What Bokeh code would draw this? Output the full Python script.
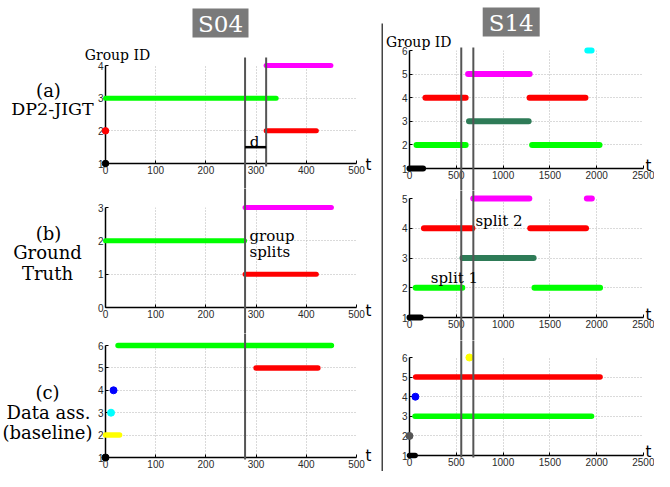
from bokeh.plotting import figure
from bokeh.models import Range1d, FixedTicker, ColumnDataSource
from bokeh.core.properties import value
from bokeh.layouts import row, column
from bokeh.embed import file_html
from bokeh.resources import INLINE

# ---------------- data ----------------
S04_XTICKS = [0, 100, 200, 300, 400, 500]
S14_XTICKS = [0, 500, 1000, 1500, 2000, 2500]

# S04 (a) DP2-JIGT
S04A_GROUP = [1, 2, 3, 4, 2]
S04A_START = [0, 0, 0, 320, 320]
S04A_END = [0, 0, 340, 449, 420]
S04A_COLOR = ["black", "red", "lime", "magenta", "red"]
# S04 (b) ground truth
S04B_GROUP = [2, 3, 1]
S04B_START = [0, 278, 278]
S04B_END = [277, 450, 420]
S04B_COLOR = ["lime", "magenta", "red"]
# S04 (c) data association baseline
S04C_GROUP = [1, 2, 3, 4, 5, 6]
S04C_START = [0, 0, 11, 16, 300, 25]
S04C_END = [0, 28, 11, 16, 423, 450]
S04C_COLOR = ["black", "yellow", "cyan", "blue", "red", "lime"]

# S14 (a)
S14A_GROUP = [1, 2, 2, 3, 4, 4, 5, 6]
S14A_START = [0, 75, 1310, 636, 170, 1283, 626, 1900]
S14A_END = [145, 600, 2030, 1273, 600, 1880, 1284, 1945]
S14A_COLOR = ["black", "lime", "lime", "#2e7b57", "red", "red", "magenta", "cyan"]
# S14 (b)
S14B_GROUP = [1, 2, 2, 3, 4, 4, 5, 5]
S14B_START = [0, 66, 1335, 566, 154, 1290, 681, 1895]
S14B_END = [120, 564, 2036, 1326, 672, 1886, 1280, 1948]
S14B_COLOR = ["black", "lime", "lime", "#2e7b57", "red", "red", "magenta", "magenta"]
# S14 (c)
S14C_GROUP = [1, 2, 3, 4, 5, 6]
S14C_START = [0, 0, 59, 63, 66, 640]
S14C_END = [60, 0, 1945, 63, 2036, 640]
S14C_COLOR = ["black", "#555555", "lime", "blue", "red", "yellow"]

S04_SPLIT_T = [278, 320]
S14_SPLIT_T = [553, 682]
D_GROUP = 1.5

SERIF = "DejaVu Serif"
SANS = "Liberation Sans"

# ---------------- layout specs (canvas pixels) ----------------
COL04 = dict(left0=0, w=381, bl=105, br=25, xr=(0, 500))
COL14 = dict(left0=383, w=271, bl=26, br=11, xr=(0, 2500))
S04A = dict(top0=0, h=188, bt=65, bb=25, yr=(1, 4))
S04B = dict(top0=188, h=145, bt=19, bb=26, yr=(0, 3))
S04C = dict(top0=333, h=138, bt=12, bb=14, yr=(1, 6))
S14A = dict(top0=0, h=190, bt=50, bb=22, yr=(1, 6))
S14B = dict(top0=190, h=150, bt=8, bb=23, yr=(1, 5))
S14C = dict(top0=340, h=131, bt=17, bb=16, yr=(1, 6))


def make_panel(spec, col, xt):
    p = figure(width=col["w"], height=spec["h"], x_range=Range1d(*col["xr"]),
               y_range=Range1d(*spec["yr"]), output_backend="svg",
               toolbar_location=None, min_border_left=col["bl"], min_border_right=col["br"],
               min_border_top=spec["bt"], min_border_bottom=spec["bb"],
               outline_line_color=None, background_fill_color="white",
               border_fill_color="white")
    yt = list(range(spec["yr"][0], spec["yr"][1] + 1))
    p.xaxis.ticker = FixedTicker(ticks=xt)
    p.yaxis.ticker = FixedTicker(ticks=yt)
    for ax in (p.xaxis[0], p.yaxis[0]):
        ax.axis_line_color = "black"
        ax.axis_line_width = 1.5
        ax.major_tick_in = 3
        ax.major_tick_out = 0
        ax.minor_tick_in = 0
        ax.minor_tick_out = 0
        ax.major_tick_line_color = "black"
        ax.minor_tick_line_color = None
        ax.major_label_text_font = SANS
        ax.major_label_text_font_size = "10px"
        ax.major_label_text_color = "#2a2a2a"
        ax.major_label_standoff = 2
    p.grid.grid_line_color = "#b5b5b5"
    p.grid.grid_line_dash = "1 2"
    p.grid.grid_line_width = 1
    return p


def draw_tracks(p, groups, starts, ends, colors, lw):
    seg = [i for i in range(len(groups)) if starts[i] != ends[i]]
    dot = [i for i in range(len(groups)) if starts[i] == ends[i]]
    src = ColumnDataSource(dict(x0=[starts[i] for i in seg], x1=[ends[i] for i in seg],
                                y=[groups[i] for i in seg], c=[colors[i] for i in seg]))
    p.segment(x0="x0", x1="x1", y0="y", y1="y", line_color="c", line_width=lw,
              line_cap="round", source=src, level="overlay")
    dsrc = ColumnDataSource(dict(x=[starts[i] for i in dot], y=[groups[i] for i in dot],
                                 c=[colors[i] for i in dot]))
    p.scatter(x="x", y="y", size=lw + 1.5, fill_color="c", line_color="c", source=dsrc,
              level="overlay")


def cy_to_data(spec, cy):
    ft = spec["top0"] + spec["bt"]
    fb = spec["top0"] + spec["h"] - spec["bb"]
    y0, y1 = spec["yr"]
    return y1 - (cy - ft) * (y1 - y0) / (fb - ft)


def cx_to_data(col, cx):
    fl = col["left0"] + col["bl"]
    fw = col["w"] - col["bl"] - col["br"]
    x0, x1 = col["xr"]
    return x0 + (cx - fl) * (x1 - x0) / fw


def vline(p, spec, t, c_from, c_to):
    a = max(c_from, spec["top0"])
    b = min(c_to, spec["top0"] + spec["h"])
    if b <= a:
        return
    p.segment(x0=[t], x1=[t], y0=[cy_to_data(spec, a)], y1=[cy_to_data(spec, b)],
              line_color="#555555", line_width=2, level="overlay")


def txt(p, spec, col, text, cx, cy, size, font=SERIF, align="center",
        baseline="middle", color="black"):
    p.text(x=[cx_to_data(col, cx)], y=[cy_to_data(spec, cy)], text=[text],
           text_font=value(font), text_font_size=size, text_align=align,
           text_baseline=baseline, text_color=color, level="overlay")


def title_box(p, spec, col, text, cx, cy, w, h):
    p.rect(x=[cx_to_data(col, cx)], y=[cy_to_data(spec, cy)], width=w, height=h,
           width_units="screen", height_units="screen", fill_color="#7a7a7a",
           line_color=None, level="overlay")
    txt(p, spec, col, text, cx, cy + 1, "23px", color="white")


# ---------------- S04 column ----------------
pa = make_panel(S04A, COL04, S04_XTICKS)
pb = make_panel(S04B, COL04, S04_XTICKS)
pc = make_panel(S04C, COL04, S04_XTICKS)
draw_tracks(pa, S04A_GROUP, S04A_START, S04A_END, S04A_COLOR, 5)
draw_tracks(pb, S04B_GROUP, S04B_START, S04B_END, S04B_COLOR, 5)
draw_tracks(pc, S04C_GROUP, S04C_START, S04C_END, S04C_COLOR, 5.5)
for sp, p in ((S04A, pa), (S04B, pb), (S04C, pc)):
    vline(p, sp, S04_SPLIT_T[0], 57, 459)
vline(pa, S04A, S04_SPLIT_T[1], 57, 166)
pa.segment(x0=[S04_SPLIT_T[0]], x1=[S04_SPLIT_T[1]], y0=[D_GROUP], y1=[D_GROUP],
           line_color="black", line_width=2.5, level="overlay")

title_box(pa, S04A, COL04, "S04", 220, 22.5, 56, 29)
txt(pa, S04A, COL04, "Group ID", 117, 54, "14px")
txt(pa, S04A, COL04, "(a)", 48, 90, "18px")
txt(pa, S04A, COL04, "DP2-JIGT", 52, 108, "17.5px")
txt(pa, S04A, COL04, "d", 254, 141.7, "15px", baseline="alphabetic")
txt(pa, S04A, COL04, "t", 365, 164.5, "15px", font="DejaVu Sans", align="left",
    baseline="alphabetic")

txt(pb, S04B, COL04, "(b)", 48, 233, "18px")
txt(pb, S04B, COL04, "Ground", 47, 252, "18px")
txt(pb, S04B, COL04, "Truth", 47, 273, "18px")
txt(pb, S04B, COL04, "group", 249, 235.7, "15px", align="left", baseline="alphabetic")
txt(pb, S04B, COL04, "splits", 249, 251, "15px", align="left", baseline="alphabetic")
txt(pb, S04B, COL04, "t", 365, 310, "15px", font="DejaVu Sans", align="left",
    baseline="alphabetic")

txt(pc, S04C, COL04, "(c)", 47, 392, "18px")
txt(pc, S04C, COL04, "Data ass.", 48, 412, "18px")
txt(pc, S04C, COL04, "(baseline)", 47, 432, "18px")
txt(pc, S04C, COL04, "t", 365, 455, "15px", font="DejaVu Sans", align="left",
    baseline="alphabetic")

# ---------------- divider ----------------
div = figure(width=2, height=471, x_axis_type=None, y_axis_type=None,
             output_backend="svg", toolbar_location=None, min_border_left=0,
             min_border_right=0, min_border_top=23, min_border_bottom=0,
             background_fill_color="#444444", border_fill_color="white",
             outline_line_color=None)
div.grid.visible = False

# ---------------- S14 column ----------------
qa = make_panel(S14A, COL14, S14_XTICKS)
qb = make_panel(S14B, COL14, S14_XTICKS)
qc = make_panel(S14C, COL14, S14_XTICKS)
draw_tracks(qa, S14A_GROUP, S14A_START, S14A_END, S14A_COLOR, 6)
draw_tracks(qb, S14B_GROUP, S14B_START, S14B_END, S14B_COLOR, 6)
draw_tracks(qc, S14C_GROUP, S14C_START, S14C_END, S14C_COLOR, 5.5)
for sp, q in ((S14A, qa), (S14B, qb), (S14C, qc)):
    for t in S14_SPLIT_T:
        vline(q, sp, t, 47, 457)

title_box(qa, S14A, COL14, "S14", 510.7, 21.5, 57, 29)
txt(qa, S14A, COL14, "Group ID", 418.3, 41, "14px")
txt(qa, S14A, COL14, "t", 645, 165, "15px", font="DejaVu Sans", align="left",
    baseline="alphabetic")
txt(qb, S14B, COL14, "split 2", 474.9, 220.7, "15px", align="left", baseline="alphabetic")
txt(qb, S14B, COL14, "split 1", 430.3, 277.3, "15px", align="left", baseline="alphabetic")
txt(qb, S14B, COL14, "t", 645, 314, "15px", font="DejaVu Sans", align="left",
    baseline="alphabetic")
txt(qc, S14C, COL14, "t", 645, 451, "15px", font="DejaVu Sans", align="left",
    baseline="alphabetic")

layout = row(column(pa, pb, pc), div, column(qa, qb, qc))
open("out.html", "w").write(file_html(layout, INLINE))
